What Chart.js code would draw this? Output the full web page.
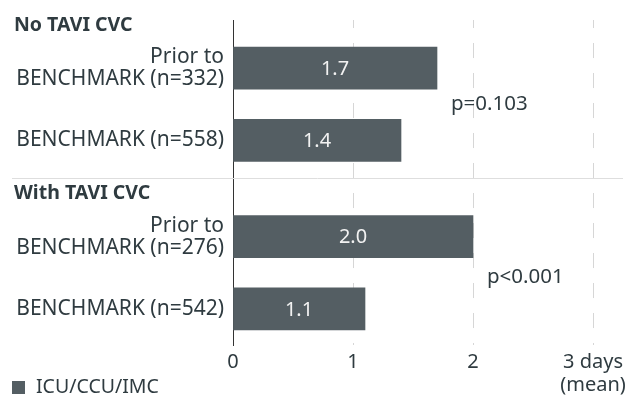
<!DOCTYPE html>
<html>
<head>
<meta charset="utf-8">
<script src="https://cdn.jsdelivr.net/npm/chart.js@4.4.1/dist/chart.umd.min.js"></script>
<style>
  html, body { margin: 0; padding: 0; background: #fff; }
  #wrap { width: 627px; height: 398px; }
</style>
</head>
<body>
<div id="wrap"><canvas id="chart"></canvas></div>
<script>
// data
const groups = ['No TAVI CVC', 'With TAVI CVC'];
const categories = [
    [['Prior to', 'BENCHMARK (n=332)'], 'BENCHMARK (n=558)'],
    [['Prior to', 'BENCHMARK (n=276)'], 'BENCHMARK (n=542)']
];
const icuDays = [[1.7, 1.4], [2.0, 1.1]];
const pValues = ['p=0.103', 'p<0.001'];
const xTickLabels = ['0', '1', '2', ['3 days', '(mean)']];
const seriesName = 'ICU/CCU/IMC';

const textColor = '#2f3b40';
const barColor = '#545e63';
const font = "'Noto Sans', sans-serif";

// lay the rows out on a fine category grid so groups get a bigger gap
const slotLabels = [];
const slotValues = [];
const groupSlots = [];
let slot = 0;
groups.forEach((g, gi) => {
    if (gi > 0) slot += 4;
    const idx = [];
    categories[gi].forEach((c, ci) => {
        slot += (ci === 0) ? 4 : 6;
        idx.push(slot);
    });
    groupSlots.push(idx);
});
const slotCount = slot + 4;
for (let i = 0; i < slotCount; i++) { slotLabels.push(''); slotValues.push(null); }
groupSlots.forEach((idx, gi) => idx.forEach((s, ci) => {
    slotLabels[s] = categories[gi][ci];
    slotValues[s] = icuDays[gi][ci];
}));
const slotNames = slotLabels.map((l, i) => 'row' + i);

const extras = {
    id: 'extras',
    afterDatasetsDraw(chart) {
        const { ctx, scales: { x, y } } = chart;
        ctx.save();
        // values inside bars
        ctx.font = '20px ' + font;
        ctx.fillStyle = '#f2f2f2';
        ctx.textAlign = 'center';
        ctx.textBaseline = 'middle';
        groupSlots.forEach((idx, gi) => idx.forEach((s, ci) => {
            const v = icuDays[gi][ci];
            ctx.fillText(v.toFixed(1), (x.getPixelForValue(0) + x.getPixelForValue(v)) / 2, y.getPixelForValue(s) + 1);
        }));
        // group headers, separators, p-values
        groupSlots.forEach((idx, gi) => {
            const top = y.getPixelForValue(idx[0]);
            const bottom = y.getPixelForValue(idx[idx.length - 1]);
            ctx.font = 'bold 19.5px ' + font;
            ctx.fillStyle = textColor;
            ctx.textAlign = 'left';
            ctx.fillText(groups[gi], 14, top - 43);
            if (gi > 0) {
                const prev = groupSlots[gi - 1];
                const sy = Math.round(y.getPixelForValue(prev[prev.length - 1]) + 38) + 0.5;
                ctx.strokeStyle = '#dedede';
                ctx.lineWidth = 1;
                ctx.beginPath();
                ctx.moveTo(12, sy);
                ctx.lineTo(623, sy);
                ctx.stroke();
            }
            const maxV = Math.max(...icuDays[gi]);
            ctx.font = '20.5px ' + font;
            ctx.fillText(pValues[gi], x.getPixelForValue(maxV) + 14, (top + bottom) / 2 + gi * 4);
        });
        // legend
        ctx.fillStyle = barColor;
        ctx.fillRect(12, 381, 13, 13);
        ctx.fillStyle = textColor;
        ctx.font = '19.5px ' + font;
        ctx.fillText(seriesName, 36, 387);
        ctx.restore();
    }
};

new Chart(document.getElementById('chart'), {
    type: 'bar',
    data: {
        labels: slotNames,
        datasets: [{
            label: seriesName,
            data: slotValues,
            backgroundColor: barColor,
            barThickness: 42
        }]
    },
    options: {
        indexAxis: 'y',
        responsive: true,
        maintainAspectRatio: false,
        animation: false,
        layout: { padding: { top: 16, right: 34, left: 0, bottom: 0 } },
        plugins: { legend: { display: false }, tooltip: { enabled: false } },
        scales: {
            y: {
                offset: false,
                grid: { display: false, drawTicks: false },
                border: { display: true, color: '#333', width: 1 },
                ticks: {
                    autoSkip: false,
                    padding: 9,
                    color: textColor,
                    font: { family: font, size: 21, lineHeight: 1.05 },
                    callback: (v, i) => slotLabels[i]
                },
                afterFit: s => { s.width = 233; }
            },
            x: {
                min: 0,
                max: 3,
                grid: {
                    drawTicks: false,
                    color: ctx => ctx.tick && ctx.tick.value === 0 ? 'rgba(0,0,0,0)' : '#d6d6d6'
                },
                border: { display: false, dash: [15, 15], dashOffset: 7 },
                ticks: {
                    stepSize: 1,
                    padding: 6,
                    color: textColor,
                    font: { family: font, size: 20, lineHeight: 1.15 },
                    callback: (v, i) => xTickLabels[i]
                },
                afterFit: s => { s.height = 53; s.paddingRight = 0; }
            }
        }
    },
    plugins: [extras]
});
</script>
</body>
</html>
